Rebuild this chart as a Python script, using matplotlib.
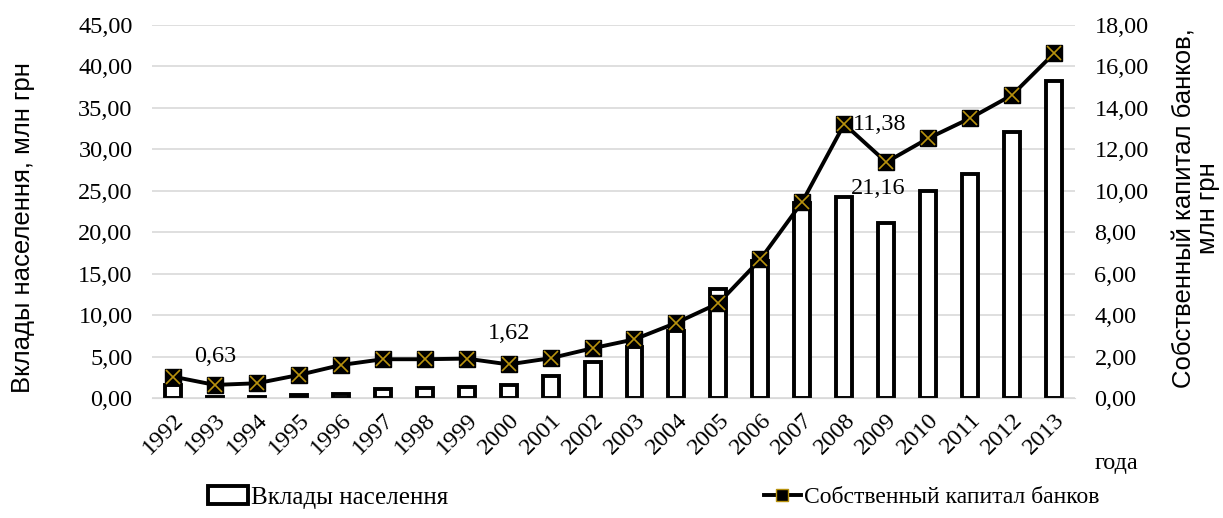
import numpy as np
import matplotlib.pyplot as plt
from matplotlib.lines import Line2D
from matplotlib.patches import Patch

years = [str(y) for y in range(1992, 2014)]
deposits = [1.6, 0.1, 0.1, 0.4, 0.5, 1.1, 1.2, 1.3, 1.6, 2.7, 4.4, 6.1, 8.1, 13.1,
            16.5, 23.5, 24.3, 21.16, 25.0, 27.0, 32.1, 38.2]
capital = [1.03, 0.63, 0.71, 1.11, 1.59, 1.87, 1.87, 1.90, 1.62, 1.92, 2.40, 2.83,
           3.63, 4.57, 6.69, 9.47, 13.22, 11.38, 12.53, 13.50, 14.62, 16.63]

plt.rcParams['font.family'] = ['Liberation Serif', 'DejaVu Serif']
FS = 17.5
SANS = ['Liberation Sans', 'DejaVu Sans']

def comma(v):
    return ('%.2f' % v).replace('.', ',')

fig = plt.figure(figsize=(12.23, 5.18), dpi=100)
ax = fig.add_axes([0.1243, 0.2317, 0.7547, 0.72])
ax2 = ax.twinx()

x = np.arange(len(years))
ax.bar(x, deposits, width=0.38, color='white', edgecolor='black', linewidth=2.8, zorder=2)
ax.set_ylim(0, 45)
lt = np.arange(0, 46, 5)
ax.set_yticks(lt)
ax.set_yticklabels([comma(v) for v in lt], fontsize=FS)
ax.set_xlim(-0.5, len(years) - 0.5)
ax.set_xticks(x)
ax.set_xticklabels(years, rotation=45, fontsize=FS, ha='right', rotation_mode='anchor')
ax.yaxis.grid(True, color='#d9d9d9', linewidth=1.2, zorder=0)
ax.set_axisbelow(True)
for s in ['top', 'left', 'right']:
    ax.spines[s].set_visible(False)
ax.spines['bottom'].set_color('#d9d9d9')
ax.tick_params(axis='y', length=0, pad=14)
ax.tick_params(axis='x', length=0, pad=8)

ax2.plot(x, capital, color='black', linewidth=2.8, marker='s', markersize=11.5,
         markerfacecolor='black', markeredgecolor='black', zorder=3)
ax2.plot(x, capital, linestyle='none', marker='x', markersize=10, markeredgewidth=1.2,
         color='#b8920e', zorder=4)
ax2.set_ylim(0, 18)
rt = np.arange(0, 19, 2)
ax2.set_yticks(rt)
ax2.set_yticklabels([comma(v) for v in rt], fontsize=FS)
for s in ['top', 'left', 'right', 'bottom']:
    ax2.spines[s].set_visible(False)
ax2.tick_params(length=0, pad=14)

# axis titles
fig.text(0.019, 0.56, 'Вклады населення, млн грн', family=SANS, fontsize=18.5,
         rotation=90, ha='center', va='center')
fig.text(0.978, 0.598, 'Собственный капитал банков,\nмлн грн', family=SANS,
         fontsize=18.5, rotation=90, ha='center', va='center', multialignment='center',
         linespacing=1.0)

ax2.text(1, 0.63 + 1.35, '0,63', fontsize=FS, ha='center', va='center')
ax2.text(8, 1.62 + 1.5, '1,62', fontsize=FS, ha='center', va='center')
ax2.text(16.2, 13.22, '11,38', fontsize=FS, ha='left', va='center')
ax.text(16.15, 21.16 + 4.1, '21,16', fontsize=FS, ha='left', va='center')

fig.text(0.895, 0.105, 'года', fontsize=FS, ha='left', va='center')

handles = [Patch(facecolor='white', edgecolor='black', linewidth=2.8),
           Line2D([], [], color='black', linewidth=2.8, marker='s', markersize=8,
                  markerfacecolor='black', markeredgecolor='#b8920e')]
fig.legend(handles[:1], ['Вклады населення'], loc='center left',
           bbox_to_anchor=(0.152, 0.04), frameon=False, fontsize=18,
           handlelength=1.6, handletextpad=0.1)
fig.legend(handles[1:], ['Собственный капитал банков'], loc='center left',
           bbox_to_anchor=(0.607, 0.04), frameon=False, fontsize=17,
           handlelength=1.6, handletextpad=0.1)

fig.savefig('out.png', dpi=100)
